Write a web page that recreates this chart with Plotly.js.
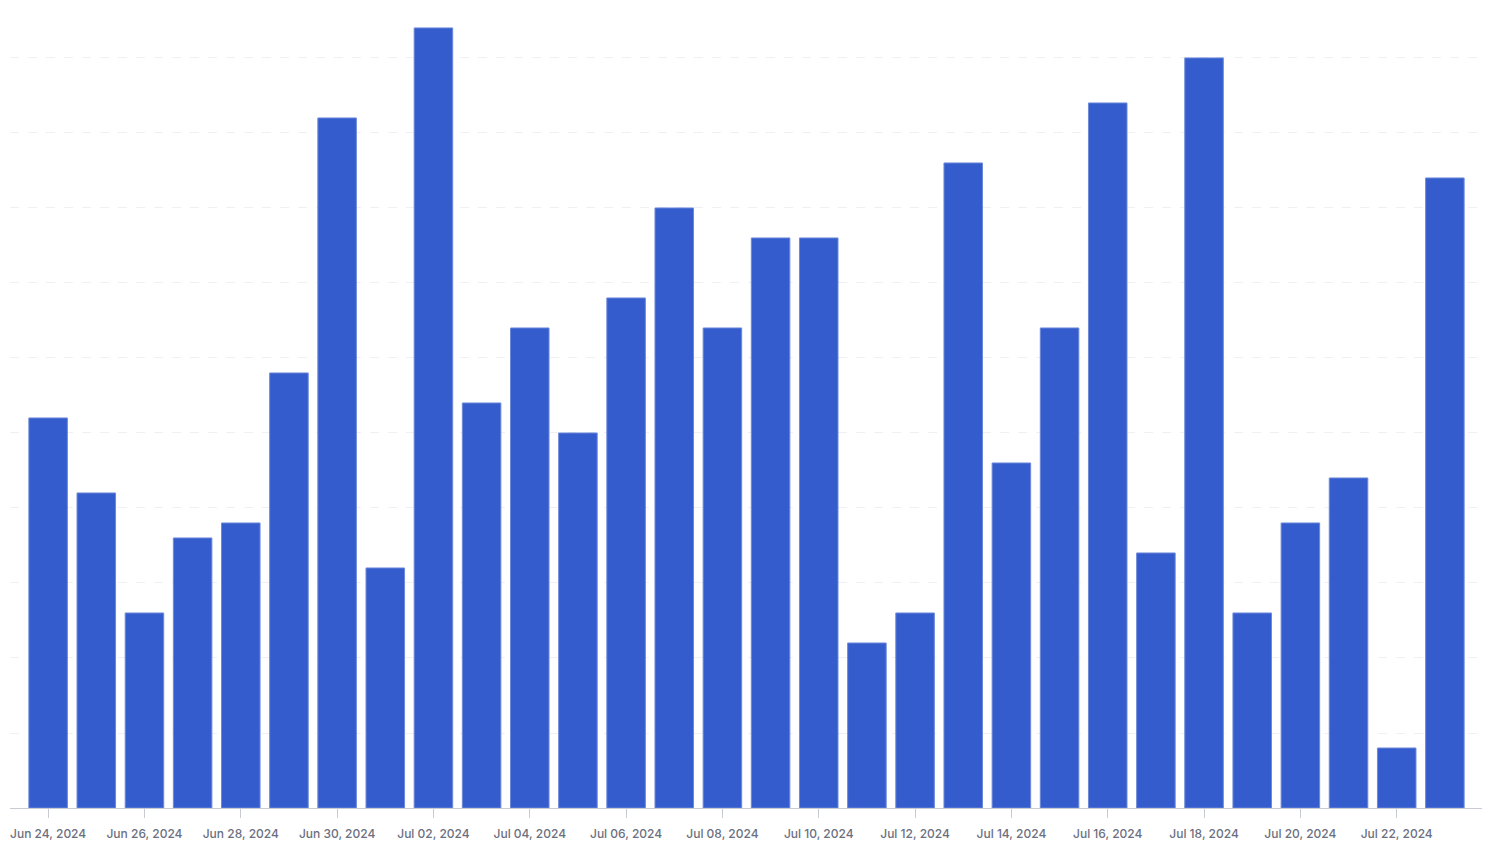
<!DOCTYPE html>
<html>
<head>
<meta charset="utf-8">
<script src="https://cdn.plot.ly/plotly-3.0.1.min.js"></script>
<style>
html,body{margin:0;padding:0;background:#fff;}
#chart{width:1488px;height:857px;}
</style>
</head>
<body>
<div id="chart"></div>
<script>
const dates = [
  "2024-06-24","2024-06-25","2024-06-26","2024-06-27","2024-06-28","2024-06-29",
  "2024-06-30","2024-07-01","2024-07-02","2024-07-03","2024-07-04","2024-07-05",
  "2024-07-06","2024-07-07","2024-07-08","2024-07-09","2024-07-10","2024-07-11",
  "2024-07-12","2024-07-13","2024-07-14","2024-07-15","2024-07-16","2024-07-17",
  "2024-07-18","2024-07-19","2024-07-20","2024-07-21","2024-07-22","2024-07-23"
];
const counts = [
  26, 21, 13, 18, 19, 29,
  46, 16, 52, 27, 32, 25,
  34, 40, 32, 38, 38, 11,
  13, 43, 23, 32, 47, 17,
  50, 13, 19, 22, 4, 42
];
const tickDates = [
  "2024-06-24","2024-06-26","2024-06-28","2024-06-30","2024-07-02","2024-07-04",
  "2024-07-06","2024-07-08","2024-07-10","2024-07-12","2024-07-14","2024-07-16",
  "2024-07-18","2024-07-20","2024-07-22"
];
const tickLabels = [
  "Jun 24, 2024","Jun 26, 2024","Jun 28, 2024","Jun 30, 2024","Jul 02, 2024","Jul 04, 2024",
  "Jul 06, 2024","Jul 08, 2024","Jul 10, 2024","Jul 12, 2024","Jul 14, 2024","Jul 16, 2024",
  "Jul 18, 2024","Jul 20, 2024","Jul 22, 2024"
];
const yGrid = [0, 5, 10, 15, 20, 25, 30, 35, 40, 45, 50];

const trace = {
  type: 'bar',
  x: dates,
  y: counts,
  marker: {color: '#345CCD', line: {color: '#6C88DA', width: 1}},
  hoverinfo: 'x+y'
};

const layout = {
  width: 1488,
  height: 857,
  margin: {l: 10, r: 6, t: 8, b: 49},
  paper_bgcolor: '#ffffff',
  plot_bgcolor: '#ffffff',
  bargap: 0.2,
  showlegend: false,
  font: {family: 'Inter, "Noto Sans", sans-serif', size: 12, color: '#6b6f80'},
  xaxis: {
    type: 'date',
    range: ['2024-06-23T05:00:00', '2024-07-23T18:30:00'],
    tickvals: tickDates,
    ticktext: tickLabels,
    ticks: 'outside',
    ticklen: 9,
    tickwidth: 1,
    tickcolor: '#c9cbd4',
    ticklabelstandoff: 6,
    showline: true,
    linecolor: '#c9cbd4',
    linewidth: 1,
    showgrid: false,
    zeroline: false,
    tickfont: {family: 'Inter, "Noto Sans", sans-serif', size: 12, color: '#6b6f80', weight: 500}
  },
  yaxis: {
    range: [0, 53.33],
    tickvals: yGrid,
    showticklabels: false,
    showgrid: true,
    gridcolor: '#f0f0f2',
    griddash: 'dash',
    gridwidth: 1,
    zeroline: false,
    showline: false,
    ticks: ''
  }
};

Plotly.newPlot('chart', [trace], layout, {displayModeBar: false, staticPlot: true});
</script>
</body>
</html>
